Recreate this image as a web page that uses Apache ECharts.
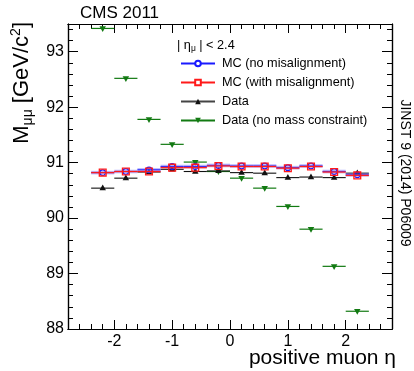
<!DOCTYPE html>
<html>
<head>
<meta charset="utf-8">
<script src="https://cdn.jsdelivr.net/npm/echarts@6/dist/echarts.min.js"></script>
<style>html,body{margin:0;padding:0;background:#fff}#c{width:414px;height:371px}</style>
</head>
<body>
<div id="c"></div>
<script>
// ---- data ----
const etaCenters = [-2.2, -1.8, -1.4, -1.0, -0.6, -0.2, 0.2, 0.6, 1.0, 1.4, 1.8, 2.2];
const binHalfWidth = 0.2;
const mcNoMisalignment = [90.82, 90.84, 90.87, 90.93, 90.93, 90.95, 90.94, 90.94, 90.91, 90.94, 90.84, 90.78];
const mcWithMisalignment = [90.82, 90.84, 90.84, 90.91, 90.91, 90.94, 90.93, 90.93, 90.90, 90.93, 90.83, 90.77];
const dataMass = [90.54, 90.72, 90.83, 90.88, 90.84, 90.85, 90.82, 90.81, 90.73, 90.74, 90.73, 90.81];
const dataNoMassConstraint = [93.42, 92.52, 91.78, 91.33, 91.01, 90.84, 90.72, 90.54, 90.21, 89.80, 89.13, 88.32];
const seriesNames = ['MC (no misalignment)', 'MC (with misalignment)', 'Data', 'Data (no mass constraint)'];
const xTickLabels = [-2, -1, 0, 1, 2];
const yTickLabels = [88, 89, 90, 91, 92, 93];
const xRange = [-2.8, 2.8];
const yRange = [88, 93.5];

function minorTicks(lo, hi, step) {
  const out = [];
  const n = Math.round((hi - lo) / step);
  for (let i = 0; i <= n; i++) out.push(+(lo + i * step).toFixed(4));
  return out;
}
const xMinor = minorTicks(xRange[0], xRange[1], 0.2);
const yMinor = minorTicks(yRange[0], yRange[1], 0.2);

const FONT = 'Liberation Sans, Arial, Helvetica, sans-serif';

function pairs(vals) { return etaCenters.map((x, i) => [x, vals[i]]); }

function makeRender(opts) {
  return function (params, api) {
    const x = api.value(0), y = api.value(1);
    const p1 = api.coord([x - binHalfWidth, y]);
    const p2 = api.coord([x + binHalfWidth, y]);
    const c = api.coord([x, y]);
    const children = [];
    if (opts.band) {
      children.push({ type: 'rect', shape: { x: p1[0], y: c[1] - opts.band / 2, width: p2[0] - p1[0], height: opts.band },
        style: { fill: opts.bandColor }, silent: true });
    }
    children.push({ type: 'line', shape: { x1: p1[0], y1: p1[1], x2: p2[0], y2: p2[1] },
      style: { stroke: opts.color, lineWidth: opts.lineWidth } });
    const s = opts.size;
    if (opts.marker === 'circle') {
      children.push({ type: 'circle', shape: { cx: c[0], cy: c[1], r: s }, style: { fill: 'none', stroke: opts.color, lineWidth: 1.2 } });
    } else if (opts.marker === 'square') {
      children.push({ type: 'rect', shape: { x: c[0] - s, y: c[1] - s, width: 2 * s, height: 2 * s }, style: { fill: 'none', stroke: opts.color, lineWidth: 1.3 } });
    } else if (opts.marker === 'up') {
      children.push({ type: 'polygon', shape: { points: [[c[0], c[1] - s], [c[0] - s * 0.9, c[1] + s * 0.6], [c[0] + s * 0.9, c[1] + s * 0.6]] }, style: { fill: opts.color } });
    } else if (opts.marker === 'down') {
      children.push({ type: 'polygon', shape: { points: [[c[0], c[1] + s], [c[0] - s * 0.9, c[1] - s * 0.6], [c[0] + s * 0.9, c[1] - s * 0.6]] }, style: { fill: opts.color } });
    }
    return { type: 'group', children };
  };
}

const BLUE = '#1a1aff', RED = '#ff1a1a', BLACK = '#111', GREEN = '#127a12';

function xAx(pos, vals, len, label) {
  return {
    type: 'value', position: pos, min: xRange[0], max: xRange[1],
    axisLine: { show: true, onZero: false, lineStyle: { color: '#000', width: 1.2 } },
    axisTick: { show: true, inside: true, length: len, customValues: vals, lineStyle: { color: '#000', width: 1 } },
    axisLabel: label ? { show: true, customValues: xTickLabels, fontFamily: FONT, fontSize: 16, color: '#000', margin: 5 } : { show: false },
    splitLine: { show: false }
  };
}
function yAx(pos, vals, len, label) {
  return {
    type: 'value', position: pos, min: yRange[0], max: yRange[1],
    axisLine: { show: true, onZero: false, lineStyle: { color: '#000', width: 1.2 } },
    axisTick: { show: true, inside: true, length: len, customValues: vals, lineStyle: { color: '#000', width: 1 } },
    axisLabel: label ? { show: true, customValues: yTickLabels, fontFamily: FONT, fontSize: 16, color: '#000', margin: 4 } : { show: false },
    splitLine: { show: false }
  };
}

const chart = echarts.init(document.getElementById('c'), null, { renderer: 'canvas' });
chart.setOption({
  backgroundColor: '#fff',
  animation: false,
  grid: { left: 68, right: 22, top: 24, bottom: 42, containLabel: false },
  xAxis: [
    xAx('bottom', xTickLabels, 9, true),
    xAx('bottom', xMinor, 5, false),
    xAx('top', xTickLabels, 9, false),
    xAx('top', xMinor, 5, false)
  ],
  yAxis: [
    yAx('left', yTickLabels, 10, true),
    yAx('left', yMinor, 5, false),
    yAx('right', yTickLabels, 10, false),
    yAx('right', yMinor, 5, false)
  ],
  legend: {
    data: seriesNames,
    orient: 'vertical', left: 180, top: 56, padding: 0,
    itemWidth: 34, itemHeight: 7, itemGap: 4,
    textStyle: { fontFamily: FONT, fontSize: 12.7, color: '#000', lineHeight: 15, padding: [0, 0, 0, 2] },
    selectedMode: false
  },
  series: [
    { name: seriesNames[0], type: 'line', data: [], symbol: 'emptyCircle', color: BLUE, lineStyle: { color: BLUE, width: 1 } },
    { name: seriesNames[1], type: 'line', data: [], symbol: 'emptyRect', color: RED, lineStyle: { color: RED, width: 1 } },
    { name: seriesNames[2], type: 'line', data: [], symbol: 'triangle', color: BLACK, lineStyle: { color: '#444', width: 1 } },
    { name: seriesNames[3], type: 'line', data: [], symbol: 'triangle', symbolRotate: 180, color: GREEN, lineStyle: { color: GREEN, width: 1 } },
    { name: 'g', type: 'custom', data: pairs(dataNoMassConstraint), z: 3,
      renderItem: makeRender({ color: GREEN, lineWidth: 1.2, marker: 'down', size: 3.6 }) },
    { name: 'k', type: 'custom', data: pairs(dataMass), z: 4,
      renderItem: makeRender({ color: BLACK, lineWidth: 1.1, marker: 'up', size: 3.6 }) },
    { name: 'b', type: 'custom', data: pairs(mcNoMisalignment), z: 5,
      renderItem: makeRender({ color: BLUE, lineWidth: 1.1, marker: 'circle', size: 2.8, band: 3.5, bandColor: 'rgba(110,110,255,0.5)' }) },
    { name: 'r', type: 'custom', data: pairs(mcWithMisalignment), z: 6,
      renderItem: makeRender({ color: RED, lineWidth: 1.1, marker: 'square', size: 3.4, band: 2.5, bandColor: 'rgba(255,120,120,0.3)' }) }
  ],
  graphic: [
    { type: 'text', left: 80, top: 5, style: { text: 'CMS 2011', font: '17px ' + FONT, fill: '#000' } },
    { type: 'text', x: 177, y: 45, style: {
        text: '{a|| η}{s|μ}{a| | < 2.4}', textVerticalAlign: 'middle',
        rich: { a: { fontFamily: FONT, fontSize: 12.7, lineHeight: 16, fill: '#000' },
                s: { fontFamily: FONT, fontSize: 8.5, lineHeight: 8, verticalAlign: 'bottom', fill: '#000' } } } },
    { type: 'text', x: 22, y: 22, rotation: Math.PI / 2, style: {
        text: '{m|M}{s|μμ}{m| [GeV/c}{p|2}{m|]}', textAlign: 'right', textVerticalAlign: 'middle',
        rich: { m: { fontFamily: FONT, fontSize: 22, lineHeight: 26, fill: '#000' },
                s: { fontFamily: FONT, fontSize: 14, lineHeight: 12, verticalAlign: 'bottom', fill: '#000' },
                p: { fontFamily: FONT, fontSize: 14, lineHeight: 12, verticalAlign: 'top', fill: '#000' } } } },
    { type: 'text', x: 396, y: 358, style: { text: 'positive muon η', font: '21px ' + FONT, fill: '#000', textAlign: 'right', textVerticalAlign: 'middle' } },
    { type: 'text', x: 405, y: 173, rotation: -Math.PI / 2, style: { text: 'JINST 9 (2014) P06009', font: '14px ' + FONT, fill: '#000', textAlign: 'center', textVerticalAlign: 'middle' } }
  ]
});
</script>
</body>
</html>
